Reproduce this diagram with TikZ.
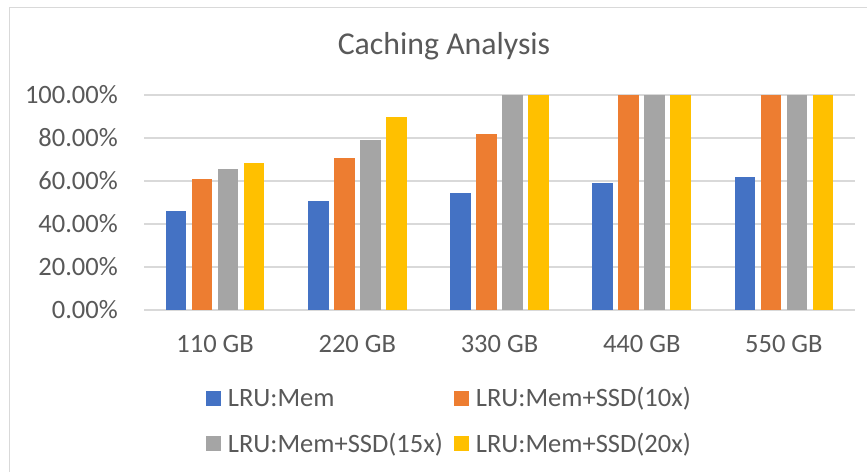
\documentclass[tikz,border=0pt]{standalone}
\usepackage{fontspec}
\setmainfont{Carlito}
\usepackage{xcolor}
\usepackage{tikz}
\usetikzlibrary{positioning}
\definecolor{cablue}{HTML}{4472C4}
\definecolor{caorange}{HTML}{ED7D31}
\definecolor{cagray}{HTML}{A5A5A5}
\definecolor{cayellow}{HTML}{FFC000}
\definecolor{catext}{HTML}{595959}
\definecolor{cagrid}{HTML}{D9D9D9}
\newcommand{\cabar}[3]{\fill[#3] (#1-10.25,0) rectangle (#1+10.25,#2);}
\tikzset{
  caframe/.style={draw=cagrid, line width=1.3pt},
  cagridline/.style={draw=cagrid, line width=1.4pt},
  calabel/.style={font=\fontsize{26.5}{30}\selectfont, text=catext, inner sep=0pt},
  catitle/.style={font=\fontsize{31.8}{36}\selectfont, text=catext, inner sep=0pt},
  calegend/.style={calabel, text height=17pt, text depth=0pt},
  cakey/.style={minimum size=15pt, inner sep=0pt, fill=#1}
}

\begin{document}
\begin{tikzpicture}[x=1pt, y=1pt]
  \useasboundingbox (0,0) rectangle (867,471);
  \fill[white] (0,0) rectangle (867,471);
  \draw[caframe] (9.5,-5) -- (9.5,463.5) -- (875,463.5);
  \node[catitle, anchor=base] (title) at (444,416) {Caching Analysis};
  % plot area, y in percent
  \begin{scope}[shift={(144,161)}, y=2.15pt]
    \draw[cagridline] (0,0) -- (711,0);
    \draw[cagridline] (0,20) -- (711,20);
    \draw[cagridline] (0,40) -- (711,40);
    \draw[cagridline] (0,60) -- (711,60);
    \draw[cagridline] (0,80) -- (711,80);
    \draw[cagridline] (0,100) -- (711,100);
    \node[calabel, anchor=base east] (y0) at (-26,-3.9) {0.00\%};
    \node[calabel, anchor=base east] (y20) at (-26,16.1) {20.00\%};
    \node[calabel, anchor=base east] (y40) at (-26,36.1) {40.00\%};
    \node[calabel, anchor=base east] (y60) at (-26,56.1) {60.00\%};
    \node[calabel, anchor=base east] (y80) at (-26,76.1) {80.00\%};
    \node[calabel, anchor=base east] (y100) at (-26,96.1) {100.00\%};
    % 110 GB
    \cabar{32.1}{46}{cablue}
    \cabar{58.1}{60.8}{caorange}
    \cabar{84.1}{65.4}{cagray}
    \cabar{110.1}{68.4}{cayellow}
    % 220 GB
    \cabar{174.3}{50.7}{cablue}
    \cabar{200.3}{70.8}{caorange}
    \cabar{226.3}{79.1}{cagray}
    \cabar{252.3}{89.9}{cayellow}
    % 330 GB
    \cabar{316.5}{54.4}{cablue}
    \cabar{342.5}{82}{caorange}
    \cabar{368.5}{100}{cagray}
    \cabar{394.5}{100}{cayellow}
    % 440 GB
    \cabar{458.7}{58.9}{cablue}
    \cabar{484.7}{100}{caorange}
    \cabar{510.7}{100}{cagray}
    \cabar{536.7}{100}{cayellow}
    % 550 GB
    \cabar{600.9}{61.9}{cablue}
    \cabar{626.9}{100}{caorange}
    \cabar{652.9}{100}{cagray}
    \cabar{678.9}{100}{cayellow}
    \node[calabel, anchor=base] (x110) at (71.1,-20) {110 GB};
    \node[calabel, anchor=base] (x220) at (213.3,-20) {220 GB};
    \node[calabel, anchor=base] (x330) at (355.5,-20) {330 GB};
    \node[calabel, anchor=base] (x440) at (497.7,-20) {440 GB};
    \node[calabel, anchor=base] (x550) at (639.9,-20) {550 GB};
  \end{scope}
  % legend
  \node[cakey=cablue] (keymem) at (213.5,72.5) {};
  \node[cakey=caorange] (keyten) at (461.5,72.5) {};
  \node[cakey=cagray] (keyfifteen) at (213.5,27) {};
  \node[cakey=cayellow] (keytwenty) at (461.5,27) {};
  \node[calegend, right=6.5pt of keymem] (labmem) {LRU:Mem};
  \node[calegend, right=6.5pt of keyten] (labten) {LRU:Mem+SSD(10x)};
  \node[calegend, right=6.5pt of keyfifteen] (labfifteen) {LRU:Mem+SSD(15x)};
  \node[calegend, right=6.5pt of keytwenty] (labtwenty) {LRU:Mem+SSD(20x)};
\end{tikzpicture}
\end{document}
